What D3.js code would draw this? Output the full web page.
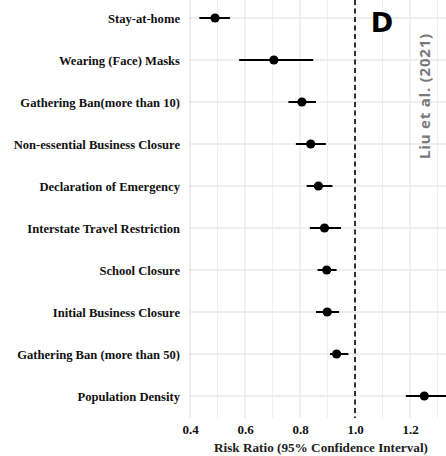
<!DOCTYPE html>
<html><head><meta charset="utf-8">
<script src="https://cdn.jsdelivr.net/npm/d3@7/dist/d3.min.js"></script>
<style>body{margin:0;background:#fff}svg{display:block}</style>
</head><body><svg id="c" width="446" height="456"></svg>
<script>
const categories = ["Stay-at-home","Wearing (Face) Masks","Gathering Ban(more than 10)","Non-essential Business Closure","Declaration of Emergency","Interstate Travel Restriction","School Closure","Initial Business Closure","Gathering Ban (more than 50)","Population Density"];
const estimate = [0.491,0.705,0.807,0.839,0.867,0.889,0.897,0.899,0.933,1.252];
const lower = [0.434,0.579,0.758,0.785,0.824,0.836,0.864,0.858,0.909,1.185];
const upper = [0.545,0.848,0.858,0.894,0.918,0.949,0.933,0.942,0.976,1.335];
const xTicks = [0.4,0.6,0.8,1.0,1.2];
const xMinor = [0.5,0.7,0.9,1.1,1.3];

(function(){
const svg = d3.select("#c");
const pL = 189, pR = 446, pT = 0, pB = 418;
const x = d3.scaleLinear().domain([0.4,1.2]).range([190,410]);
const y = d3.scalePoint().domain(categories).range([18,396]);

const g = svg.append("g");
g.selectAll(".vmin").data(xMinor).join("line")
  .attr("x1",d=>x(d)).attr("x2",d=>x(d)).attr("y1",pT).attr("y2",pB)
  .attr("stroke","#efefef").attr("stroke-width",1);
g.selectAll(".vmaj").data(xTicks).join("line")
  .attr("x1",d=>x(d)).attr("x2",d=>x(d)).attr("y1",pT).attr("y2",pB)
  .attr("stroke","#e8e8e8").attr("stroke-width",1.3);
g.selectAll(".h").data(categories).join("line")
  .attr("x1",pL).attr("x2",pR).attr("y1",d=>y(d)).attr("y2",d=>y(d))
  .attr("stroke","#e8e8e8").attr("stroke-width",1.3);

g.append("line").attr("x1",x(1)).attr("x2",x(1)).attr("y1",pT).attr("y2",pB)
  .attr("stroke","#000").attr("stroke-width",1.6).attr("stroke-dasharray","5,3.5");

g.selectAll(".ci").data(categories).join("line")
  .attr("x1",(d,i)=>x(lower[i])).attr("x2",(d,i)=>x(upper[i]))
  .attr("y1",d=>y(d)).attr("y2",d=>y(d))
  .attr("stroke","#000").attr("stroke-width",2);
g.selectAll(".pt").data(categories).join("circle")
  .attr("cx",(d,i)=>x(estimate[i])).attr("cy",d=>y(d)).attr("r",4.6).attr("fill","#000");

const yAxis = d3.axisLeft(y).tickSize(0).tickPadding(9);
const ya = svg.append("g").attr("transform",`translate(${pL},0)`).call(yAxis);
ya.select(".domain").remove();
ya.selectAll("text").attr("font-family","'Liberation Serif','Times New Roman',serif")
  .attr("font-weight","bold").attr("font-size","12.6px").attr("fill","#111");

const xAxis = d3.axisBottom(x).tickValues(xTicks).tickFormat(d3.format(".1f")).tickSize(0).tickPadding(7);
const xa = svg.append("g").attr("transform",`translate(0,${pB})`).call(xAxis);
xa.select(".domain").remove();
xa.selectAll("text").attr("font-family","'Liberation Serif','Times New Roman',serif")
  .attr("font-weight","bold").attr("font-size","13px").attr("fill","#111");

svg.append("text").attr("x",321).attr("y",452).attr("text-anchor","middle")
  .attr("font-family","'Liberation Serif','Times New Roman',serif").attr("font-weight","bold")
  .attr("font-size","13.2px").attr("fill","#222").text("Risk Ratio (95% Confidence Interval)");

svg.append("text").attr("x",382).attr("y",32).attr("text-anchor","middle")
  .attr("font-family","'DejaVu Sans','Liberation Sans',Arial,sans-serif").attr("font-weight","bold")
  .attr("font-size","27px").attr("fill","#000").text("D");

svg.append("text").attr("transform","translate(430,96) rotate(-90)").attr("text-anchor","middle")
  .attr("font-family","'Open Sans','DejaVu Sans',sans-serif").attr("font-weight","bold")
  .attr("font-size","15px").attr("fill","#7a7a7a").attr("letter-spacing","0.8px").text("Liu et al. (2021)");
})();
</script></body></html>
